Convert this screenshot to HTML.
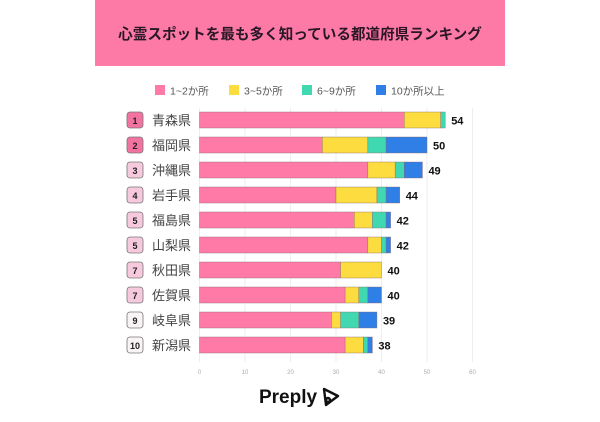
<!DOCTYPE html>
<html><head><meta charset="utf-8">
<style>
body{margin:0;width:600px;height:417px;background:#fff;overflow:hidden;font-family:"Liberation Sans","Noto Sans CJK JP",sans-serif;}
</style></head>
<body>
<svg width="600" height="417" xmlns="http://www.w3.org/2000/svg" id="chart">
<rect x="95" y="0" width="410" height="66" fill="#fd7aa6"/>
<text x="300" y="39" text-anchor="middle" font-size="14.6" font-weight="bold" fill="#2a1726" font-family="Liberation Sans, Noto Sans CJK JP, sans-serif">心霊スポットを最も多く知っている都道府県ランキング</text>
<g id="legend"></g>
<g id="grid"></g>
<g id="rows"></g>
<g id="xticks"></g>
<text x="288" y="403" text-anchor="middle" font-size="19" font-weight="bold" fill="#111">Preply</text>
<g fill="none" stroke="#111" stroke-width="2.4" stroke-linejoin="round">
<path d="M324 389 L338 396 L326 405 Z"/><circle cx="328" cy="400" r="2"/>
</g>
</svg>
<script>
const categories=["青森県","福岡県","沖縄県","岩手県","福島県","山梨県","秋田県","佐賀県","岐阜県","新潟県"];
const ranks=[1,2,3,4,5,5,7,7,9,10];
const s1=[45,27,37,30,34,37,31,32,29,32];
const s2=[8,10,6,9,4,3,9,3,2,4];
const s3=[1,4,2,2,3,1,0,2,4,1];
const s4=[0,9,4,3,1,1,0,3,4,1];
const totals=[54,50,49,44,42,42,40,40,39,38];
const seriesNames=["1~2か所","3~5か所","6~9か所","10か所以上"];
const ticks=[0,10,20,30,40,50,60];
const colors=["#ff7aa6","#fcdc3e","#3fd8b0","#2f7fe6"];
const NS="http://www.w3.org/2000/svg";
const x0=199.5,sc=4.55;
const X=v=>x0+v*sc;
const Y=i=>120+i*25;
function mk(t,a,p){const e=document.createElementNS(NS,t);for(const k in a)e.setAttribute(k,a[k]);p.appendChild(e);return e;}
const grid=document.getElementById('grid'),xt=document.getElementById('xticks');
ticks.forEach(t=>{
 const l=mk('line',{x1:X(t),x2:X(t),y1:108,y2:362,stroke:'#eeeef2','stroke-width':1},grid);
 
 
 const tx=mk('text',{x:X(t),y:374,'text-anchor':'middle','font-size':6,fill:'#aaa'},xt);
 tx.textContent=t;
 
 
});
const lg=document.getElementById('legend');
const lx=[155,229,302,376];
seriesNames.forEach((n,k)=>{
 const r=mk('rect',{x:lx[k],y:85,width:10,height:10,fill:colors[k]},lg);
 
 
 const t=mk('text',{x:lx[k]+15,y:94.5,'font-size':10.5,fill:'#555'},lg);
 t.textContent=n;
 
 
});
const rows=document.getElementById('rows');
const series=[s1,s2,s3,s4];
categories.forEach((c,i)=>{
 const y=Y(i);
 const bf=ranks[i]<=2?'#f2739f':(ranks[i]<=8?'#f7c9dc':'#f8f4f6');
 const b=mk('rect',{x:127,y:y-8,width:16,height:16,rx:3,fill:bf,stroke:'#777','stroke-width':0.8},rows);
 
 
 const bt=mk('text',{x:135,y:y+4,'text-anchor':'middle','font-size':9,'font-weight':'bold',fill:'#222'},rows);
 bt.textContent=ranks[i];
 
 
 const ct=mk('text',{x:152,y:y+5,'font-size':13,fill:'#444'},rows);
 ct.textContent=c;
 
 
 let acc=0;
 series.forEach((s,k)=>{
  if(s[i]>0){
   const r=mk('rect',{x:X(acc),y:y-8,width:s[i]*sc,height:16,fill:colors[k],stroke:'#8a6a70','stroke-width':0.4},rows);
   
   
  }
  acc+=s[i];
 });
 const vt=mk('text',{x:X(acc)+6,y:y+4.5,'font-size':11,'font-weight':'bold',fill:'#111'},rows);
 vt.textContent=totals[i];
 
 
});
</script>
</body></html>
